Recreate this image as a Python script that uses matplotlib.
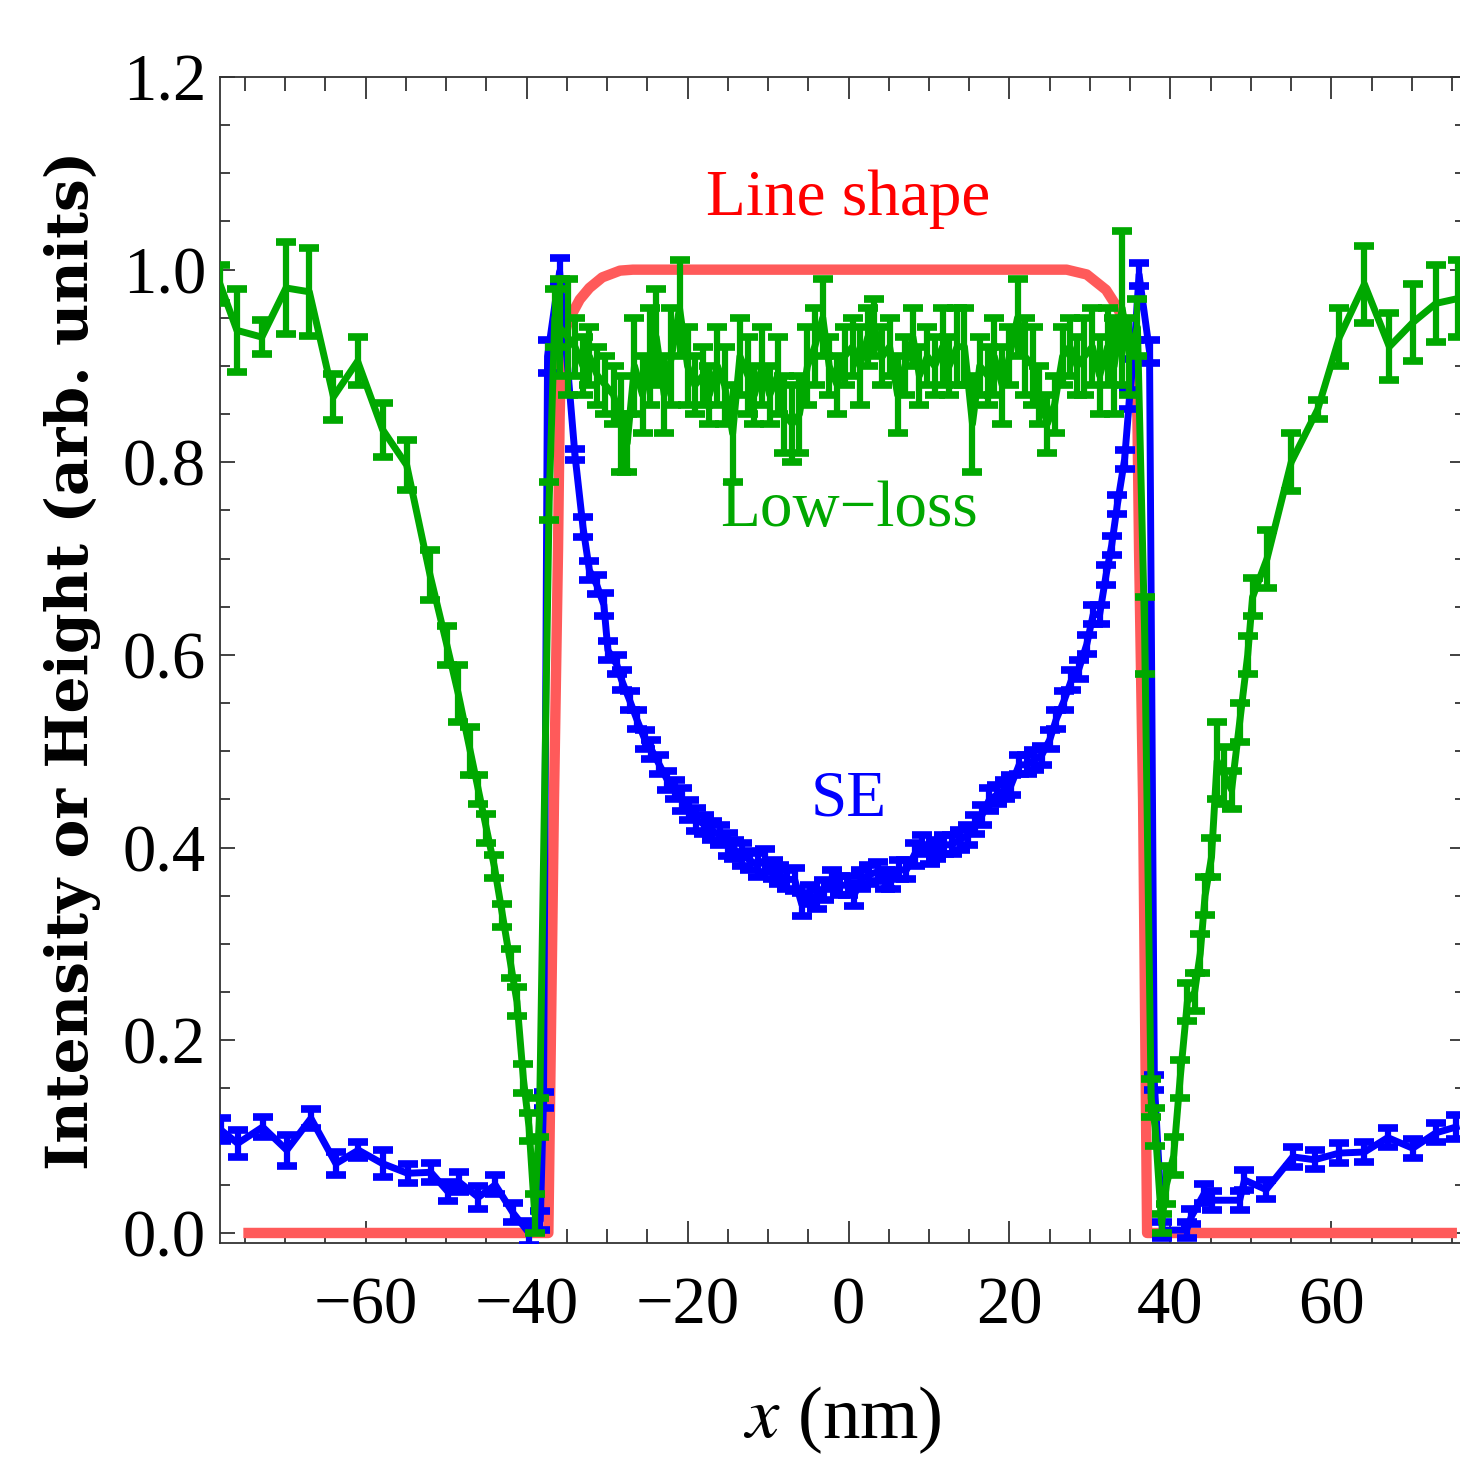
import matplotlib
matplotlib.use("Agg")
import matplotlib.pyplot as plt
from matplotlib.ticker import MultipleLocator

plt.rcParams["mathtext.fontset"] = "stix"

# line shape (red)
shape_x = [-75.2, -37.3, -36.6, -36.1, -35.9, -35.7, -35.0, -34.3, -33.4, -32.2,
           -30.6, -28.4, -26.8, 27.1, 29.6, 32.0, 33.3, 34.5, 35.3, 35.9,
           36.1, 36.6, 37.1, 75.6]
shape_y = [0.0, 0.0, 0.45, 0.709, 0.847, 0.917, 0.942, 0.955, 0.969, 0.981,
           0.992, 0.999, 1.0, 1.0, 0.995, 0.979, 0.962, 0.943, 0.917, 0.847,
           0.709, 0.45, 0.0, 0.0]

# SE signal (blue)
se_x = [-78.0, -75.9, -72.8, -69.8, -66.8, -63.7, -60.9, -57.9, -54.8, -51.9,
        -49.8, -48.4, -46.0, -43.9, -41.7, -39.7, -38.3, -37.9, -37.4, -35.9,
        -34.0, -33.0, -32.2, -31.3, -30.4, -29.9, -28.8, -28.2, -27.2, -26.3,
        -25.3, -24.5, -23.5, -22.5, -21.6, -20.7, -19.8, -18.9, -17.9, -17.0,
        -16.0, -15.0, -14.2, -13.2, -12.3, -11.3, -10.4, -9.4, -8.6, -7.6,
        -6.7, -5.8, -4.8, -3.9, -3.0, -2.0, -1.1, -0.1, 0.7, 1.6,
        2.6, 3.6, 4.5, 5.3, 6.3, 7.2, 8.2, 9.1, 10.1, 10.9,
        11.9, 12.8, 13.8, 14.8, 15.7, 16.6, 17.5, 18.5, 19.4, 20.2,
        21.2, 22.2, 23.1, 24.0, 25.0, 25.8, 26.8, 27.7, 28.6, 29.6,
        30.4, 31.2, 32.0, 32.7, 33.4, 34.3, 34.9, 35.5, 36.1, 37.4,
        38.0, 39.0, 42.0, 42.6, 44.2, 45.2, 48.6, 49.2, 51.9, 55.2,
        57.9, 61.0, 64.1, 67.0, 70.1, 73.0, 75.5]
se_y = [0.107, 0.093, 0.110, 0.086, 0.119, 0.072, 0.086, 0.072, 0.062, 0.063,
        0.043, 0.053, 0.037, 0.050, 0.021, 0.000, 0.013, 0.138, 0.910, 0.998,
        0.808, 0.733, 0.688, 0.673, 0.652, 0.605, 0.590, 0.574, 0.553, 0.533,
        0.512, 0.502, 0.486, 0.470, 0.460, 0.450, 0.439, 0.429, 0.424, 0.418,
        0.413, 0.403, 0.398, 0.393, 0.387, 0.382, 0.387, 0.377, 0.372, 0.367,
        0.367, 0.341, 0.351, 0.346, 0.356, 0.367, 0.361, 0.361, 0.351, 0.367,
        0.372, 0.375, 0.367, 0.367, 0.377, 0.377, 0.393, 0.403, 0.393, 0.398,
        0.403, 0.403, 0.408, 0.413, 0.424, 0.434, 0.450, 0.455, 0.460, 0.465,
        0.486, 0.486, 0.491, 0.496, 0.512, 0.533, 0.553, 0.574, 0.585, 0.611,
        0.642, 0.642, 0.683, 0.714, 0.756, 0.803, 0.865, 0.917, 0.995, 0.915,
        0.156, 0.003, 0.003, 0.017, 0.041, 0.034, 0.034, 0.055, 0.045, 0.079,
        0.076, 0.083, 0.084, 0.099, 0.088, 0.104, 0.110]
se_err = [0.012, 0.014, 0.010, 0.016, 0.010, 0.012, 0.008, 0.014, 0.010, 0.010,
          0.010, 0.010, 0.012, 0.010, 0.010, 0.012, 0.010, 0.008, 0.017, 0.014,
          0.006, 0.010, 0.010, 0.010, 0.012, 0.010, 0.010, 0.010, 0.010, 0.010,
          0.010, 0.010, 0.010, 0.010, 0.010, 0.012, 0.010, 0.012, 0.010, 0.010,
          0.010, 0.012, 0.010, 0.012, 0.010, 0.012, 0.012, 0.010, 0.010, 0.010,
          0.012, 0.012, 0.010, 0.010, 0.010, 0.010, 0.010, 0.010, 0.012, 0.010,
          0.010, 0.010, 0.010, 0.010, 0.010, 0.010, 0.012, 0.010, 0.010, 0.010,
          0.010, 0.010, 0.010, 0.010, 0.010, 0.010, 0.012, 0.010, 0.010, 0.010,
          0.010, 0.010, 0.010, 0.010, 0.010, 0.010, 0.010, 0.010, 0.010, 0.010,
          0.010, 0.010, 0.010, 0.010, 0.010, 0.010, 0.010, 0.010, 0.012, 0.012,
          0.008, 0.008, 0.008, 0.008, 0.010, 0.010, 0.010, 0.010, 0.010, 0.010,
          0.010, 0.010, 0.010, 0.010, 0.010, 0.010, 0.012]

# low-loss signal (green)
ll_x = [-78.1, -76.0, -72.9, -69.9, -67.0, -64.0, -61.0, -57.9, -54.9, -52.0,
        -49.9, -48.5, -47.0, -46.0, -45.0, -44.0, -43.0, -42.0, -41.2, -40.4,
        -39.7, -39.0, -38.4, -37.2, -36.5,
        -35.9, -34.9, -34.0, -33.0, -32.2, -31.2, -30.2, -29.2, -28.3, -27.5,
        -26.6, -25.6, -24.7, -23.9, -22.9, -22.0, -21.0, -20.0, -19.1, -18.1,
        -17.3, -16.3, -15.4, -14.4, -13.5, -12.5, -11.7, -10.7, -9.8, -8.8,
        -8.0, -7.0, -6.1, -5.1, -4.2, -3.2, -2.4, -1.4, -0.5, 0.5,
        1.4, 2.4, 3.2, 4.2, 5.1, 6.1, 7.0, 8.0, 8.8, 9.8,
        10.7, 11.7, 12.5, 13.5, 14.4, 15.4, 16.3, 17.3, 18.1, 19.1,
        20.0, 21.0, 21.9, 22.9, 23.7, 24.7, 25.6, 26.6, 27.5, 28.4,
        29.3, 30.3, 31.2, 32.2, 33.0, 34.0, 34.9, 35.9, 36.8, 37.6,
        38.1, 38.9, 39.5, 40.4, 41.2, 42.1, 43.0, 43.7, 44.3, 45.1,
        45.8, 46.7, 47.6, 48.6, 49.6, 50.2, 52.0, 55.0, 58.3, 61.0,
        64.1, 67.2, 70.1, 73.0, 75.7]
ll_y = [0.985, 0.937, 0.930, 0.981, 0.977, 0.868, 0.905, 0.834, 0.797, 0.683,
        0.610, 0.560, 0.500, 0.460, 0.420, 0.380, 0.330, 0.280, 0.240, 0.160,
        0.110, 0.020, 0.120, 0.760, 0.950,
        0.94, 0.93, 0.92, 0.90, 0.91, 0.89, 0.88, 0.87, 0.84, 0.82,
        0.90, 0.87, 0.91, 0.93, 0.87, 0.91, 0.96, 0.90, 0.88, 0.89,
        0.87, 0.90, 0.88, 0.83, 0.91, 0.89, 0.87, 0.90, 0.87, 0.89,
        0.85, 0.84, 0.85, 0.90, 0.92, 0.95, 0.90, 0.88, 0.91, 0.92,
        0.90, 0.93, 0.94, 0.91, 0.92, 0.87, 0.90, 0.93, 0.89, 0.91,
        0.90, 0.92, 0.90, 0.92, 0.92, 0.84, 0.90, 0.89, 0.91, 0.88,
        0.91, 0.95, 0.91, 0.90, 0.87, 0.84, 0.86, 0.91, 0.92, 0.90,
        0.91, 0.92, 0.89, 0.92, 0.90, 0.96, 0.91, 0.94, 0.62, 0.14,
        0.11, 0.01, 0.05, 0.08, 0.16, 0.24, 0.25, 0.29, 0.35, 0.39,
        0.49, 0.475, 0.46, 0.53, 0.60, 0.66, 0.70, 0.80, 0.855, 0.93,
        0.985, 0.92, 0.945, 0.965, 0.97]
ll_err = [0.020, 0.043, 0.018, 0.048, 0.046, 0.024, 0.025, 0.028, 0.026, 0.026,
          0.020, 0.030, 0.025, 0.015, 0.015, 0.012, 0.012, 0.015, 0.015, 0.015,
          0.015, 0.020, 0.020, 0.020, 0.030,
          0.05, 0.06, 0.03, 0.03, 0.03, 0.03, 0.03, 0.03, 0.05, 0.03,
          0.05, 0.04, 0.05, 0.05, 0.04, 0.05, 0.05, 0.04, 0.03, 0.03,
          0.03, 0.04, 0.04, 0.05, 0.04, 0.04, 0.03, 0.04, 0.03, 0.04,
          0.04, 0.04, 0.04, 0.04, 0.04, 0.04, 0.03, 0.03, 0.03, 0.03,
          0.04, 0.03, 0.03, 0.03, 0.03, 0.04, 0.03, 0.03, 0.03, 0.03,
          0.03, 0.04, 0.03, 0.04, 0.04, 0.05, 0.03, 0.03, 0.04, 0.04,
          0.03, 0.04, 0.04, 0.04, 0.03, 0.03, 0.03, 0.03, 0.03, 0.03,
          0.04, 0.04, 0.04, 0.04, 0.05, 0.08, 0.04, 0.03, 0.04, 0.02,
          0.02, 0.01, 0.02, 0.02, 0.02, 0.02, 0.02, 0.02, 0.02, 0.02,
          0.04, 0.03, 0.02, 0.02, 0.02, 0.02, 0.03, 0.03, 0.01, 0.03,
          0.04, 0.035, 0.04, 0.04, 0.04]

RED = "#ff5a5a"
BLUE = "#0000ff"
GREEN = "#00a800"
FRAME = "#333333"

fig = plt.figure(figsize=(14.6, 14.7), dpi=100)
ax = fig.add_axes([220 / 1460, (1470 - 1243) / 1470, 1245 / 1460, 1166 / 1470])

ax.plot(shape_x, shape_y, color=RED, lw=7.5, solid_joinstyle="round",
        solid_capstyle="butt", zorder=2)
ax.errorbar(se_x, se_y, yerr=se_err, color=BLUE, lw=5, elinewidth=4.5,
            capsize=7, capthick=5.5, zorder=3)
ax.errorbar(ll_x, ll_y, yerr=ll_err, color=GREEN, lw=5, elinewidth=4.5,
            capsize=7, capthick=5.5, zorder=4)

serif = ["Liberation Serif", "DejaVu Serif"]
ax.text(0, 1.073, "Line shape", color="#ff0000", fontsize=47, family=serif,
        ha="center", va="center")
ax.text(0, 0.75, "Low\u2212loss", color=GREEN, fontsize=47, family=serif,
        ha="center", va="center")
ax.text(0, 0.45, "SE", color=BLUE, fontsize=47, family=serif,
        ha="center", va="center")

ax.set_xlim(-78.1, 76.6)
ax.set_ylim(-0.0104, 1.2)
ax.xaxis.set_major_locator(MultipleLocator(20))
ax.xaxis.set_minor_locator(MultipleLocator(5))
ax.yaxis.set_major_locator(MultipleLocator(0.2))
ax.yaxis.set_minor_locator(MultipleLocator(0.05))
ax.yaxis.set_major_formatter(lambda v, p: f"{v:.1f}")

ax.tick_params(which="both", direction="in", top=True, right=True,
               color=FRAME, width=1.3)
ax.tick_params(axis="x", which="major", length=16, pad=24)
ax.tick_params(axis="x", which="minor", length=10)
ax.tick_params(axis="y", which="major", length=11, pad=10)
ax.tick_params(axis="y", which="minor", length=7)
for lab in ax.get_xticklabels() + ax.get_yticklabels():
    lab.set_fontfamily(serif)
    lab.set_fontsize(48)
for s in ax.spines.values():
    s.set_color(FRAME)
    s.set_linewidth(1.3)

ax.set_xlabel("$x$ (nm)", fontsize=54, family=serif, labelpad=34)
ax.set_ylabel("Intensity or Height (arb. units)", fontsize=42,
              family="DejaVu Serif", fontweight="bold", labelpad=16)

fig.savefig("out.png", dpi=100)
